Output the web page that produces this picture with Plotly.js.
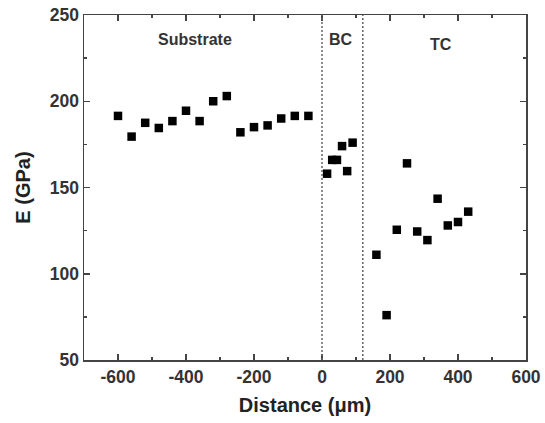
<!DOCTYPE html>
<html>
<head>
<meta charset="utf-8">
<script src="https://cdn.plot.ly/plotly-3.0.1.min.js"></script>
<style>html,body{margin:0;padding:0;background:#fff;}#chart{width:545px;height:423px;}</style>
</head>
<body>
<div id="chart"></div>
<script>
// Substrate region
var substrateX = [-600, -560, -520, -480, -440, -400, -360, -320, -280, -240, -200, -160, -120, -80, -40];
var substrateE = [191.5, 179.5, 187.5, 184.5, 188.5, 194.5, 188.5, 200, 203, 182, 185, 186, 190, 191.5, 191.5];
// Bond coat region
var bcX = [15, 30, 44, 59, 74, 90];
var bcE = [158, 166, 166, 174, 159.5, 176];
// Top coat region
var tcX = [160, 190, 220, 250, 280, 310, 340, 370, 400, 430];
var tcE = [111, 76, 125.5, 164, 124.5, 119.5, 143.5, 128, 130, 136];
// Region boundaries and labels
var boundaries = [0, 120];
var regionLabels = ["Substrate", "BC", "TC"];
var labelX = [-375, 56, 350];
var labelY = [236, 236, 233];
// Tick labels
var xTickVals = [-600, -400, -200, 0, 200, 400, 600];
var xTickText = ["-600", "-400", "-200", "0", "200", "400", "600"];
var yTickVals = [50, 100, 150, 200, 250];
var yTickText = ["50", "100", "150", "200", "250"];

var allX = substrateX.concat(bcX, tcX);
var allE = substrateE.concat(bcE, tcE);

var font = "Arial, 'Liberation Sans', Helvetica, sans-serif";

var trace = {
  x: allX, y: allE, type: 'scatter', mode: 'markers',
  marker: {symbol: 'square', size: 8.5, color: '#000'},
  showlegend: false, hoverinfo: 'x+y'
};

var shapes = boundaries.map(function(b){
  return {type: 'line', xref: 'x', yref: 'paper', x0: b, x1: b, y0: 0, y1: 1,
    line: {color: '#666', width: 1.5, dash: '2px,2px'}};
});

var annotations = regionLabels.map(function(t, i){
  return {x: labelX[i], y: labelY[i], xref: 'x', yref: 'y', text: '<b>' + t + '</b>',
    showarrow: false, font: {family: font, size: 16, color: '#333'}};
});

var axisCommon = {
  showgrid: false, zeroline: false, showline: true, linecolor: '#444', linewidth: 1.5,
  mirror: 'ticks', ticks: 'inside', ticklen: 6, tickwidth: 1.5, tickcolor: '#444',
  tickfont: {family: font, size: 17.5, color: '#333', weight: 'bold'}
};

var layout = {
  width: 545, height: 423,
  margin: {l: 84, r: 19, t: 15, b: 63},
  paper_bgcolor: '#fff', plot_bgcolor: '#fff',
  xaxis: Object.assign({}, axisCommon, {
    range: [-700, 600], tickvals: xTickVals, ticktext: xTickText,
    minor: {dtick: 100, tick0: 0, ticks: 'inside', ticklen: 3, tickwidth: 1.5, tickcolor: '#444'},
    title: {text: '<b>Distance (μm)</b>', font: {family: font, size: 20, color: '#222'}, standoff: 12}
  }),
  yaxis: Object.assign({}, axisCommon, {
    range: [50, 250], tickvals: yTickVals, ticktext: yTickText,
    minor: {dtick: 25, tick0: 0, ticks: 'inside', ticklen: 3, tickwidth: 1.5, tickcolor: '#444'},
    title: {text: '<b>E (GPa)</b>', font: {family: font, size: 20, color: '#222'}, standoff: 14}
  }),
  shapes: shapes,
  annotations: annotations
};

Plotly.newPlot('chart', [trace], layout, {displayModeBar: false, staticPlot: true});
</script>
</body>
</html>
